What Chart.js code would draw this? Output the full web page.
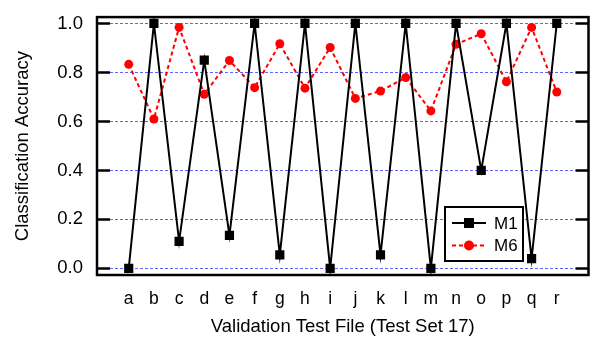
<!DOCTYPE html>
<html>
<head>
<meta charset="utf-8">
<script src="https://cdn.jsdelivr.net/npm/chart.js@4"></script>
<style>
  html, body { margin: 0; padding: 0; background: #fff; }
  #wrap { width: 595px; height: 341px; }
</style>
</head>
<body>
<div id="wrap"><canvas id="chart_acc" width="595" height="341"></canvas></div>
<script>
// test files on the x axis
const fileLabels = ['a','b','c','d','e','f','g','h','i','j','k','l','m','n','o','p','q','r'];
const m1Values = [0, 1, 0.11, 0.85, 0.135, 1, 0.055, 1, 0, 1, 0.055, 1, 0, 1, 0.40, 1, 0.04, 1];
const m6Values = [0.833, 0.61, 0.984, 0.711, 0.849, 0.738, 0.917, 0.736, 0.902, 0.694, 0.724, 0.779, 0.643, 0.915, 0.958, 0.762, 0.984, 0.72];
const yTicks = [0, 0.2, 0.4, 0.6, 0.8, 1.0];

const FONT = 'Liberation Sans, Arial, Helvetica, sans-serif';

function toPoints(vals) {
    return vals.map((v, i) => ({ x: i, y: v }));
}

// frame, inside ticks, dotted grid and the boxed legend
const framePlugin = {
    id: 'frame',
    beforeDatasetsDraw(chart) {
        const { ctx, chartArea: a, scales } = chart;
        const ys = scales.y;
        ctx.save();
        ctx.strokeStyle = 'rgba(80,80,255,0.9)';
        ctx.lineWidth = 1;
        ctx.setLineDash([3, 2]);
        yTicks.forEach(t => {
            const py = Math.round(ys.getPixelForValue(t)) + 0.5;
            ctx.beginPath();
            ctx.moveTo(a.left + 13, py);
            ctx.lineTo(a.right - 13, py);
            ctx.stroke();
        });
        ctx.restore();
    },
    afterDatasetsDraw(chart) {
        const { ctx, chartArea: a, scales } = chart;
        const ys = scales.y;
        ctx.save();
        ctx.strokeStyle = '#000';
        ctx.lineWidth = 2.5;
        ctx.strokeRect(a.left, a.top, a.right - a.left, a.bottom - a.top);
        yTicks.forEach(t => {
            const py = ys.getPixelForValue(t);
            ctx.beginPath();
            ctx.moveTo(a.left, py);
            ctx.lineTo(a.left + 13, py);
            ctx.moveTo(a.right - 13, py);
            ctx.lineTo(a.right, py);
            ctx.stroke();
        });

        // legend box
        const bx = 445, by = 207, bw = 78, bh = 54;
        ctx.lineWidth = 2;
        ctx.fillStyle = '#fff';
        ctx.fillRect(bx, by, bw, bh);
        ctx.strokeRect(bx, by, bw, bh);
        chart.data.datasets.forEach((ds, i) => {
            const ly = by + 16 + i * 22.5;
            ctx.save();
            ctx.strokeStyle = ds.borderColor;
            ctx.lineWidth = ds.borderWidth;
            ctx.setLineDash(ds.borderDash || []);
            ctx.beginPath();
            ctx.moveTo(bx + 7, ly);
            ctx.lineTo(bx + 41, ly);
            ctx.stroke();
            ctx.setLineDash([]);
            ctx.fillStyle = ds.pointBackgroundColor;
            const cx = bx + 24;
            if (ds.pointStyle === 'rect') {
                ctx.fillRect(cx - 5, ly - 5, 10, 10);
            } else {
                ctx.beginPath();
                ctx.arc(cx, ly, 5, 0, Math.PI * 2);
                ctx.fill();
            }
            ctx.fillStyle = '#000';
            ctx.font = '17px ' + FONT;
            ctx.textBaseline = 'middle';
            ctx.fillText(ds.label, bx + 49, ly + 1);
            ctx.restore();
        });
        ctx.restore();
    }
};

const ctx = document.getElementById('chart_acc').getContext('2d');
const accChart = new Chart(ctx, {
    type: 'line',
    data: {
        datasets: [{
            label: 'M1',
            data: toPoints(m1Values),
            borderColor: '#000',
            borderWidth: 2,
            pointStyle: 'rect',
            pointRadius: 6.5,
            pointBackgroundColor: '#000',
            pointBorderWidth: 0,
            tension: 0
        }, {
            label: 'M6',
            data: toPoints(m6Values),
            borderColor: '#ff0000',
            borderWidth: 2,
            borderDash: [4, 3],
            pointStyle: 'circle',
            pointRadius: 4.5,
            pointBackgroundColor: '#ff0000',
            pointBorderWidth: 0,
            tension: 0
        }]
    },
    options: {
        responsive: false,
        animation: false,
        events: [],
        layout: { padding: { top: 9, right: 2, left: 0, bottom: 0 } },
        plugins: {
            legend: { display: false },
            tooltip: { enabled: false }
        },
        scales: {
            x: {
                type: 'linear',
                min: -1.26,
                max: 18.26,
                afterBuildTicks: s => { s.ticks = fileLabels.map((_, i) => ({ value: i })); },
                afterFit: s => { s.height = 66; },
                grid: { display: false },
                border: { display: false },
                ticks: {
                    padding: 6,
                    color: '#000',
                    font: { family: FONT, size: 17.5 },
                    callback: v => fileLabels[v]
                },
                title: {
                    display: true,
                    text: 'Validation Test File (Test Set 17)',
                    color: '#000',
                    font: { family: FONT, size: 18.5 },
                    padding: { top: 0, bottom: 3 }
                }
            },
            y: {
                min: -0.027,
                max: 1.026,
                afterBuildTicks: s => { s.ticks = yTicks.map(v => ({ value: v })); },
                afterFit: s => { s.width = 97; },
                grid: { display: false },
                border: { display: false },
                ticks: {
                    padding: 6,
                    color: '#000',
                    font: { family: FONT, size: 18.5 },
                    callback: v => v.toFixed(1)
                },
                title: {
                    display: true,
                    text: 'Classification Accuracy',
                    color: '#000',
                    font: { family: FONT, size: 18.5 },
                    padding: { top: 12, bottom: 0 }
                }
            }
        }
    },
    plugins: [framePlugin]
});
</script>
</body>
</html>
